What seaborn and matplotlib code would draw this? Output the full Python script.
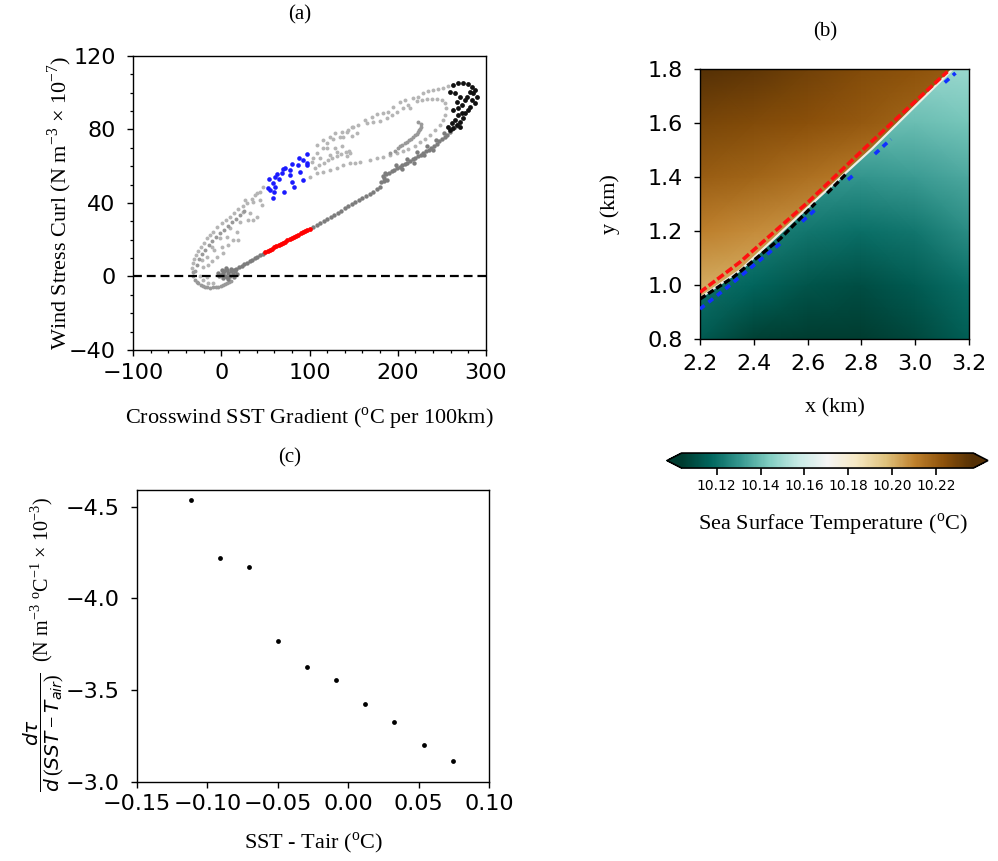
import numpy as np
import matplotlib
matplotlib.use("Agg")
import matplotlib.pyplot as plt
import seaborn as sns
from matplotlib.patches import Polygon
from matplotlib.colors import Normalize
from matplotlib.ticker import MultipleLocator, FormatStrFormatter

# ------------------------------------------------------------------ panel (a)
# light grey points of the trajectory (x: crosswind SST gradient, y: curl)
a_light = [
    (-33.5, 4.5), (-32.4, 7.2), (-30.9, 9.3), (-28.5, 11.7), (-26.0, 14.1), (-23.0, 16.2),
    (-19.6, 18.4), (-16.5, 20.8), (-12.8, 22.6), (-9.0, 24.4), (-4.4, 26.8), (0.5, 29.0),
    (5.4, 30.8), (9.9, 32.6), (14.4, 34.7), (19.3, 36.6), (24.3, 38.4), (28.8, 40.2),
    (34.5, 42.0), (38.2, 44.4),
    (-22.2, 9.0), (-16.5, 10.4), (-20.3, 5.4), (-14.6, 6.3), (-10.9, 8.6), (-4.4, 10.4),
    (-8.2, 14.4), (0.5, 16.2), (2.4, 12.6), (6.1, 21.7), (9.9, 26.2), (13.7, 19.9),
    (19.3, 19.9), (18.2, 24.4), (21.2, 29.9), (25.0, 35.3), (30.7, 30.8), (32.6, 34.4),
    (8.0, 17.2), (-1.4, 20.8), (-10.9, 16.2), (40.1, 32.6), (36.3, 30.7),
    (-20.3, -1.9), (-14.6, -3.7), (-9.0, -3.3), (-16.5, -0.4), (-24.1, 0.3),
    (26.9, 41.6), (36.4, 40.7), (43.9, 41.6), (45.8, 38.9), (40.1, 45.3), (47.7, 48.9), (43.9, 46.2),
    (102.5, 62.5), (108.1, 67.0), (111.9, 64.3), (115.7, 69.8), (119.4, 72.5), (123.2, 66.1),
    (127.0, 74.7), (130.8, 67.9), (134.5, 76.1), (142.1, 78.8), (147.8, 81.5),
    (108.1, 71.6), (115.7, 74.3), (123.2, 76.1), (128.9, 77.9), (136.4, 78.8), (138.3, 76.1),
    (147.8, 76.6), (153.4, 77.9), (119.4, 69.7), (128.9, 70.1), (136.4, 71.2), (104.3, 64.3),
    (106.0, 59.0), (111.0, 60.5), (116.0, 62.0), (121.0, 63.2), (126.0, 64.3), (131.0, 65.4),
    (136.0, 66.5), (141.0, 67.6), (145.0, 68.3), (146.0, 67.0), (143.0, 65.8),
    (100.6, 54.3), (108.1, 56.1), (115.7, 57.0), (123.2, 58.0), (130.8, 58.9), (138.3, 60.7),
    (145.9, 61.6), (151.5, 62.0), (157.2, 62.5), (168.5, 63.4), (176.0, 64.6), (183.7, 65.2),
    (191.0, 66.3), (199.0, 67.3), (206.0, 68.5), (212.0, 69.4), (219.5, 71.2), (225.2, 73.0),
    (230.9, 74.8), (236.5, 77.0), (242.2, 79.7), (247.9, 82.4), (251.6, 85.2), (253.5, 87.9),
    (254.7, 91.5), (253.5, 94.2), (249.8, 95.9),
    (164.8, 83.4), (172.3, 83.9), (179.9, 84.6), (187.4, 86.1), (193.0, 87.8), (198.8, 89.7),
    (206.3, 91.9), (213.9, 91.5), (221.4, 95.5), (227.1, 96.1), (232.8, 96.4), (238.4, 96.6),
    (244.1, 96.4),
    (144.0, 79.7), (149.7, 81.5), (155.3, 82.4), (162.9, 85.2), (170.4, 87.0), (176.1, 88.3),
    (183.7, 88.8), (189.3, 89.7), (195.0, 92.4), (202.5, 95.1), (208.2, 96.1), (212.0, 93.3),
    (217.6, 97.0), (223.3, 97.9), (229.0, 99.7), (234.6, 101.0), (240.3, 101.5), (246.0, 102.0),
    (251.6, 102.4), (257.3, 103.9),
]
# medium grey points (loop below the origin, outer dashes, inner hook)
a_mid = [
    (-32.4, 2.6), (-31.7, 0.3), (-29.8, -1.9), (-28.0, -2.9), (-26.0, -3.7), (-23.5, -4.4),
    (-21.1, -5.0), (-18.5, -5.5), (-15.8, -5.9), (-12.7, -6.0), (-9.7, -5.9), (-6.5, -5.8),
    (-3.3, -5.5), (-0.5, -5.2), (2.4, -4.8), (4.7, -4.3), (6.9, -3.7), (8.8, -3.1), (10.7, -2.4),
    (-30.0, 3.0), (-28.0, 6.0), (-25.5, 9.5), (-22.0, 12.0), (-18.5, 14.5), (-14.0, 17.0),
    (-10.0, 19.5), (-6.0, 21.5), (-2.0, 23.5), (3.0, 25.5), (7.5, 27.5), (12.0, 29.5),
    (16.5, 31.5), (21.0, 33.5), (26.0, 35.5),
    (191.2, 67.4), (196.9, 68.5), (199.7, 69.7), (202.5, 71.0), (205.3, 71.7), (208.2, 72.5),
    (210.6, 73.3), (213.1, 74.1), (215.3, 75.0), (217.6, 75.9), (219.5, 76.8), (221.4, 77.7),
    (223.0, 78.6), (224.4, 79.5), (225.5, 80.3), (226.3, 81.2), (225.9, 82.8), (223.3, 83.9),
]
# dark grey points (dense branch through the origin and up to the maximum)
a_dark = [
    (-3.3, 1.7), (0.5, 3.5), (5.4, 4.5), (10.7, 4.3), (15.6, 3.2), (17.5, 1.4), (14.4, -0.4),
    (8.0, -1.4), (1.6, -1.0), (-2.2, 0.3), (2.4, 1.7), (8.0, 1.7), (12.9, 1.4), (4.2, 0.3),
    (9.9, 0.3), (3.0, 3.0), (7.0, 3.5), (11.0, 2.8), (6.0, -0.5), (0.0, 0.8),
    (14.0, 3.5), (17.0, 4.3), (20.0, 5.1), (23.0, 5.9), (26.0, 6.7), (29.0, 7.5), (32.0, 8.3),
    (35.0, 9.1), (38.0, 9.9), (41.0, 10.7), (44.0, 11.5), (47.0, 12.4),
    (104.0, 26.9), (108.0, 28.0), (112.0, 29.2), (116.0, 30.3), (120.0, 31.4), (124.0, 32.5),
    (128.0, 33.6), (132.0, 34.7), (136.0, 35.9), (140.0, 37.0), (144.0, 38.1), (148.0, 39.3),
    (152.0, 40.4), (156.0, 41.5), (160.0, 42.7), (164.0, 43.8), (168.0, 45.0), (172.0, 46.2),
    (176.0, 47.4), (180.0, 48.8),
    (181.0, 51.5), (184.0, 53.5), (187.0, 55.5), (190.0, 56.5), (193.0, 57.3), (196.0, 58.0),
    (199.0, 58.8), (202.0, 59.8), (205.0, 60.5), (208.0, 61.2), (211.0, 62.0), (214.0, 62.9),
    (217.0, 63.7), (220.0, 64.6), (223.0, 65.5), (226.0, 66.3), (229.0, 67.2), (232.0, 68.2),
    (235.0, 69.0), (238.0, 70.0), (241.0, 71.2), (244.0, 72.3), (247.0, 73.5), (250.0, 74.6),
    (253.0, 75.8), (256.0, 77.0), (259.0, 78.5), (262.0, 80.0), (265.0, 81.5), (268.0, 83.0),
    (198.0, 60.5), (210.0, 63.8), (222.0, 67.6), (233.0, 71.0), (243.0, 74.5), (252.0, 78.0),
    (205.0, 58.5), (218.0, 62.0), (230.0, 66.0), (240.0, 69.0),
    (183.0, 54.8), (186.0, 56.5), (184.0, 52.0), (188.0, 52.6),
]
# red segment
a_red = [
    (50.0, 13.2), (52.5, 13.8), (55.0, 14.5), (57.5, 15.1), (60.0, 15.8), (62.5, 16.4),
    (65.0, 17.1), (67.5, 17.7), (70.0, 18.3), (72.5, 19.0), (75.0, 19.6), (77.5, 20.3),
    (80.0, 20.9), (82.5, 21.5), (85.0, 22.2), (87.5, 22.8), (90.0, 23.5), (92.5, 24.1),
    (95.0, 24.7), (97.5, 25.4), (100.0, 26.0),
]
# blue cluster
a_blue = [
    (88.5, 64.3), (97.5, 66.7), (97.5, 62.0), (87.3, 60.7), (79.8, 61.2), (70.3, 58.3),
    (77.9, 58.0), (68.5, 56.5), (62.8, 55.8), (60.9, 54.0), (54.5, 52.9), (65.8, 52.9),
    (59.0, 50.7), (53.3, 48.0), (60.9, 48.5), (55.2, 47.1), (60.1, 46.2), (71.1, 46.2),
    (77.9, 55.2), (79.8, 51.6), (82.4, 48.9), (93.0, 52.5), (89.2, 57.1), (96.8, 60.7),
    (59.0, 42.5), (72.2, 58.9), (93.0, 63.4),
]
# black cluster
a_black = [
    (263.0, 104.2), (268.6, 105.1), (274.3, 105.5), (280.0, 104.8), (283.7, 103.3), (287.5, 101.5),
    (285.6, 99.7), (289.4, 97.9), (283.7, 96.1), (287.5, 94.2), (281.9, 92.4), (280.0, 90.6),
    (276.2, 88.8), (274.3, 86.1), (270.5, 84.3), (266.7, 82.4), (263.0, 80.6), (259.2, 79.7),
    (270.5, 81.5), (272.4, 88.8), (259.2, 100.6), (264.9, 99.7), (270.5, 97.9), (276.2, 96.1),
    (266.8, 95.1), (272.4, 93.3), (278.1, 97.9), (281.9, 100.6), (264.9, 85.2), (268.6, 87.9),
    (261.1, 83.4), (257.3, 81.5), (268.6, 91.5), (263.0, 90.6),
]
a_xticks = [-100, 0, 100, 200, 300]
a_yticks = [-40, 0, 40, 80, 120]

# ------------------------------------------------------------------ panel (b)
sst_x_grid = [2.2, 2.4, 2.6, 2.8, 3.0, 3.2]
sst_y_grid = [0.8, 1.0, 1.2, 1.4, 1.6, 1.8]
sst_warm = [  # rows follow sst_y_grid (warm side of the front)
    [10.196, 10.196, 10.196, 10.196, 10.196, 10.196],
    [10.202, 10.201, 10.200, 10.199, 10.198, 10.197],
    [10.211, 10.208, 10.206, 10.204, 10.202, 10.200],
    [10.220, 10.218, 10.215, 10.212, 10.210, 10.208],
    [10.228, 10.226, 10.224, 10.221, 10.218, 10.215],
    [10.237, 10.234, 10.230, 10.226, 10.223, 10.220],
]
sst_cold = [  # rows follow sst_y_grid (cold side of the front)
    [10.114, 10.106, 10.100, 10.101, 10.108, 10.115],
    [10.121, 10.117, 10.112, 10.110, 10.114, 10.120],
    [10.128, 10.125, 10.122, 10.120, 10.122, 10.128],
    [10.135, 10.133, 10.131, 10.130, 10.132, 10.135],
    [10.142, 10.141, 10.140, 10.140, 10.140, 10.142],
    [10.149, 10.148, 10.148, 10.148, 10.148, 10.149],
]
front_x = [2.2, 2.35, 2.604, 2.84, 3.14]
front_y = [0.952, 1.055, 1.29, 1.505, 1.8]
red_x = [2.2, 2.349, 2.604, 2.836, 3.12]
red_y = [0.973, 1.085, 1.309, 1.529, 1.79]
black_x = [2.2, 2.324, 2.499, 2.629, np.nan, 2.673, 2.747]
black_y = [0.948, 1.029, 1.172, 1.303, np.nan, 1.340, 1.415]
blue_x = [2.2, 2.3, 2.412, 2.5, np.nan, 2.58, 2.63, np.nan, 2.75, 2.775, np.nan, 2.85, 2.91, np.nan, 3.11, 3.15]
blue_y = [0.911, 0.99, 1.083, 1.155, np.nan, 1.235, 1.28, np.nan, 1.39, 1.41, np.nan, 1.485, 1.54, np.nan, 1.75, 1.785]
b_ticks_x = [2.2, 2.4, 2.6, 2.8, 3.0, 3.2]
b_ticks_y = [0.8, 1.0, 1.2, 1.4, 1.6, 1.8]
sst_vmin, sst_vmax = 10.104, 10.237
cbar_ticks = [10.12, 10.14, 10.16, 10.18, 10.20, 10.22]

# ------------------------------------------------------------------ panel (c)
c_x = [-0.112, -0.0913, -0.0708, -0.050, -0.0291, -0.0086, 0.0122, 0.0328, 0.0536, 0.0742]
c_y = [-4.538, -4.222, -4.173, -3.765, -3.627, -3.556, -3.427, -3.327, -3.202, -3.113]
c_xticks = [-0.15, -0.10, -0.05, 0.00, 0.05, 0.10]
c_yticks = [-4.5, -4.0, -3.5, -3.0]

# ------------------------------------------------------------------ style
sns.set_style("ticks", rc={"axes.edgecolor": "black", "xtick.color": "black",
                           "ytick.color": "black", "text.color": "black",
                           "axes.labelcolor": "black"})
plt.rcParams.update({
    "font.family": ["DejaVu Sans"],
    "mathtext.fontset": "custom",
    "mathtext.rm": "Liberation Serif",
    "mathtext.it": "DejaVu Sans:italic",
    "mathtext.bf": "Liberation Serif:bold",
    "axes.linewidth": 1.0,
})
SERIF = ["Liberation Serif", "DejaVu Serif"]
LAB = dict(fontfamily=SERIF, fontsize=16)

fig = plt.figure(figsize=(9.98, 8.61), dpi=100)
axA = fig.add_axes([0.1333, 0.5935, 0.3537, 0.3415])
axB = fig.add_axes([0.7014, 0.6063, 0.2695, 0.3136])
cax = fig.add_axes([0.6683, 0.4564, 0.3216, 0.0174])
axC = fig.add_axes([0.1373, 0.0918, 0.3527, 0.3391])


def dots(ax, pts, color, s, z):
    arr = np.asarray(pts, dtype=float)
    sns.scatterplot(x=arr[:, 0], y=arr[:, 1], color=color, s=s, linewidth=0,
                    ax=ax, legend=False, zorder=z)


# ---- (a)
dots(axA, a_light, "#b5b5b5", 8, 2)
dots(axA, a_mid, "#999999", 8, 3)
dots(axA, a_dark, "#7d7d7d", 10, 3)
dots(axA, a_red, "#ff0000", 12, 4)
dots(axA, a_blue, "#1a1aff", 11, 4)
dots(axA, a_black, "#111111", 12, 4)
axA.axhline(0, color="black", lw=1.6, dashes=(4, 2.2), zorder=5)
axA.set_xlim(-100, 300)
axA.set_ylim(-40, 120)
axA.set_xticks(a_xticks)
axA.set_yticks(a_yticks)
axA.xaxis.set_minor_locator(MultipleLocator(20))
axA.yaxis.set_minor_locator(MultipleLocator(10))
axA.tick_params(which="major", length=4.5, width=1.0, labelsize=16)
axA.tick_params(which="minor", length=2.5, width=0.9)
axA.tick_params(axis="x", which="major", pad=5)
axA.tick_params(axis="y", which="major", pad=8)
axA.set_xlabel(r"Crosswind SST Gradient ($^{\rm o}$C per 100km)", **LAB)
axA.set_ylabel(r"Wind Stress Curl (N m$^{-3}$ $\times$ 10$^{-7}$)", **LAB)
axA.xaxis.set_label_coords(0.5, -0.19)
axA.yaxis.set_label_coords(-0.168, 0.5)

# ---- (b)
norm = Normalize(vmin=sst_vmin, vmax=sst_vmax)
GX, GY = np.meshgrid(sst_x_grid, sst_y_grid)
xmin, xmax = sst_x_grid[0], sst_x_grid[-1]
ymin, ymax = sst_y_grid[0], sst_y_grid[-1]
warm = axB.pcolormesh(GX, GY, np.array(sst_warm), shading="gouraud", cmap="BrBG_r",
                      norm=norm, antialiased=False, zorder=1)
cold = axB.pcolormesh(GX, GY, np.array(sst_cold), shading="gouraud", cmap="BrBG_r",
                      norm=norm, antialiased=False, zorder=1)
front = list(zip(front_x, front_y))
warm.set_clip_path(Polygon(front + [(xmin, ymax)], closed=True, transform=axB.transData))
cold.set_clip_path(Polygon(front + [(xmax, ymax), (xmax, ymin), (xmin, ymin)], closed=True,
                           transform=axB.transData))
axB.plot(front_x, front_y, color="#eeeee4", lw=1.6, zorder=2)
axB.plot(blue_x, blue_y, color="#1030ff", lw=2.6, dashes=(1.6, 1.4), zorder=3)
axB.plot(black_x, black_y, color="black", lw=2.4, dashes=(2.0, 0.9), zorder=4)
axB.plot(red_x, red_y, color="#ff1010", lw=2.6, dashes=(2.2, 0.8), zorder=5)
axB.set_xlim(xmin, xmax)
axB.set_ylim(ymin, ymax)
axB.set_xticks(b_ticks_x)
axB.set_yticks(b_ticks_y)
axB.xaxis.set_major_formatter(FormatStrFormatter("%.1f"))
axB.yaxis.set_major_formatter(FormatStrFormatter("%.1f"))
axB.tick_params(length=4.5, width=1.0, labelsize=16)
axB.tick_params(axis="x", pad=6.5)
axB.tick_params(axis="y", pad=8)
axB.set_xlabel("x (km)", **LAB)
axB.set_ylabel("y (km)", **LAB)
axB.xaxis.set_label_coords(0.5, -0.22)
axB.yaxis.set_label_coords(-0.297, 0.5)

cb = fig.colorbar(warm, cax=cax, orientation="horizontal", extend="both", ticks=cbar_ticks)
cb.ax.xaxis.set_major_formatter(FormatStrFormatter("%.2f"))
cb.ax.tick_params(labelsize=10, length=5, width=1.2, pad=3)
cb.outline.set_linewidth(1.2)
cb.set_label(r"Sea Surface Temperature ($^{\rm o}$C)", **LAB)
cb.ax.xaxis.set_label_coords(0.52, -2.93)

# ---- (c)
sns.scatterplot(x=c_x, y=c_y, color="black", s=12, linewidth=0, ax=axC, legend=False)
axC.set_xlim(-0.15, 0.10)
axC.set_ylim(-3.0, -4.59)
axC.set_xticks(c_xticks)
axC.set_yticks(c_yticks)
axC.tick_params(length=4.5, width=1.0, labelsize=16)
axC.tick_params(axis="x", pad=4.5)
axC.tick_params(axis="y", pad=8)
axC.set_xlabel(r"SST - Tair ($^{\rm o}$C)", **LAB)
axC.set_ylabel(r"$\dfrac{d\tau}{d\,(SST-T_{air})}$  (N m$^{-3}$ $^{\rm o}$C$^{-1}$ $\times$ 10$^{-3}$)",
               fontfamily=SERIF, fontsize=14.5)
axC.xaxis.set_label_coords(0.5, -0.165)
axC.yaxis.set_label_coords(-0.203, 0.47)

# ---- panel letters
for txt, px, py in [("(a)", 300, 15), ("(b)", 825, 32), ("(c)", 290, 458)]:
    fig.text(px / 998, 1 - py / 861, txt, ha="center", va="center", fontfamily=SERIF, fontsize=15)

fig.savefig("out.png", dpi=100)
